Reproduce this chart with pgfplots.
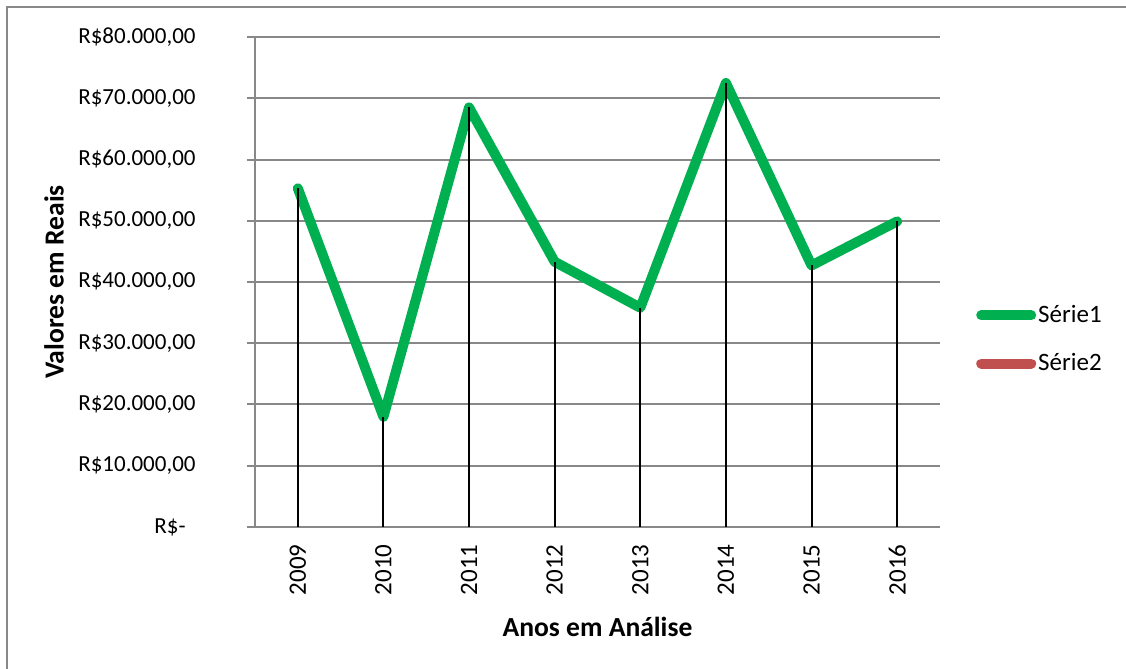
\documentclass[border=0pt]{standalone}
\usepackage{fontspec}
\setmainfont{Carlito}
\usepackage{pgfplots}
\pgfplotsset{compat=1.18}

\definecolor{verde}{HTML}{00B050}
\definecolor{verm}{HTML}{C0504D}
\definecolor{grade}{HTML}{888888}

\newcommand{\fs}{\fontsize{12.5}{15}\selectfont}
\newcommand{\fy}{\fontsize{11.5}{13}\selectfont}
\newcommand{\fl}{\fontsize{13.8}{16}\selectfont\bfseries}

\begin{document}
\begin{tikzpicture}
% picture box: 1 px of the reference = 0.5pt
\useasboundingbox (-127.5pt,-71pt) rectangle (435.5pt,263.5pt);
\draw[grade, line width=1.2pt] (-124pt,-71pt) -- (-124pt,260pt) -- (435.5pt,260pt);

\begin{axis}[
  at={(0,0)}, anchor=south west,
  scale only axis,
  width=342.5pt, height=245pt,
  xmin=-0.5, xmax=7.5,
  ymin=0, ymax=80000,
  clip=false,
  axis x line*=bottom, axis y line*=left,
  axis line style={grade, line width=1pt},
  xtick={0,...,7},
  xticklabels={2009,2010,2011,2012,2013,2014,2015,2016},
  ytick={0,10000,...,80000},
  yticklabels={{R\$-\hspace*{5pt}},{R\$10.000,00},{R\$20.000,00},{R\$30.000,00},{R\$40.000,00},{R\$50.000,00},{R\$60.000,00},{R\$70.000,00},{R\$80.000,00}},
  scaled y ticks=false,
  tick align=outside,
  major tick length=4pt,
  xtick style={draw=none},
  ytick style={grade, line width=1pt},
  ymajorgrids,
  grid style={grade, line width=1pt},
  xticklabel style={font=\fs, rotate=90, anchor=east, inner sep=0pt, xshift=-4.5pt},
  yticklabel style={font=\fy, anchor=east, inner sep=0pt, xshift=-25.5pt},
  xlabel={Anos em Análise},
  ylabel={Valores em Reais},
  label style={font=\fl},
  xlabel style={at={(axis description cs:0.5,0)}, yshift=-50pt, anchor=center},
  ylabel style={at={(axis description cs:0,0.5)}, yshift=100.5pt, anchor=center},
  legend image code/.code={\draw[#1] (2.5pt,0pt) -- (27.5pt,0pt); \path (0pt,-3pt) (28pt,3pt);},
  legend style={at={(1.045,0.3827)}, anchor=west, draw=none, fill=none,
    inner sep=0pt, row sep=10pt, font=\fs, nodes={inner xsep=0.5pt}},
  legend cell align=left,
]
\addplot[verde, line width=5pt, line join=round, line cap=round, no marks]
  coordinates {(0,55300) (1,18000) (2,68500) (3,43300) (4,35800) (5,72500) (6,42700) (7,49900)};
\addlegendentry{Série1}
\addplot[black, line width=1pt, ycomb, no marks, forget plot]
  coordinates {(0,55300) (1,18000) (2,68500) (3,43300) (4,35800) (5,72500) (6,42700) (7,49900)};
\addlegendimage{verm, line width=5pt, line cap=round}
\addlegendentry{Série2}
\end{axis}
\end{tikzpicture}
\end{document}
